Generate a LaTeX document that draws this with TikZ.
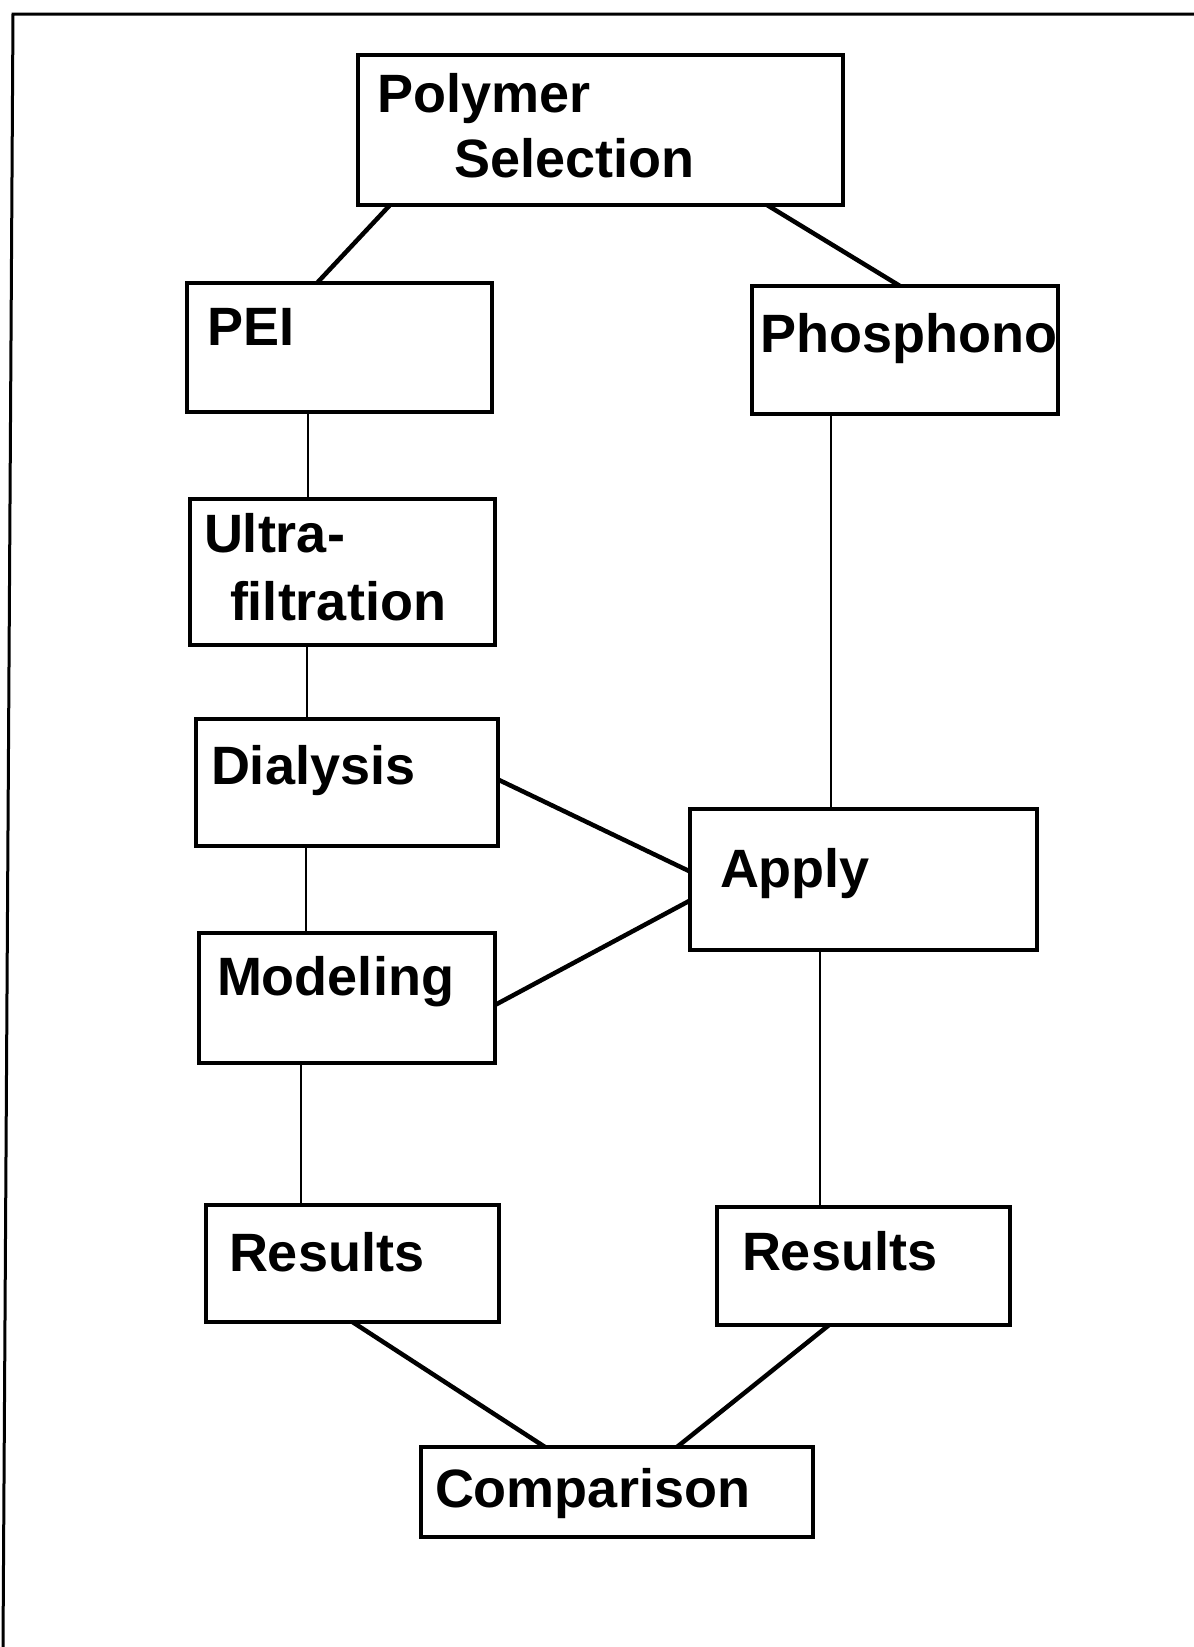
\documentclass[tikz,border=0pt]{standalone}
\usepackage{fontspec}
\setmainfont{Liberation Sans}
\begin{document}
\begin{tikzpicture}[x=1pt,y=-1pt,
  box/.style={draw=black,line width=4pt,fill=none,inner sep=0pt,outer sep=0pt,rectangle},
  txt/.style={anchor=base west,inner sep=0pt,outer sep=0pt,font=\fontsize{54}{65}\selectfont\bfseries},
  thinlink/.style={draw=black,line width=2.2pt},
  thicklink/.style={draw=black,line width=4.5pt},
  framestyle/.style={draw=black,line width=3pt}]
\useasboundingbox (0,0) rectangle (1194,1647);
% frame (only top and left are visible)
\coordinate (fTL) at (13,14);
\coordinate (fTR) at (1194,14);
\coordinate (fBL) at (3,1647);
\draw[framestyle] (fTR) -- (fTL) -- (fBL);

% boxes
\node[box,minimum width=485pt,minimum height=150pt] (poly)  at (600.5,130) {};
\node[box,minimum width=305pt,minimum height=129pt] (pei)   at (339.5,347.5) {};
\node[box,minimum width=306pt,minimum height=128pt] (phos)  at (905,350) {};
\node[box,minimum width=305pt,minimum height=146pt] (ultra) at (342.5,572) {};
\node[box,minimum width=302pt,minimum height=127pt] (dial)  at (347,782.5) {};
\node[box,minimum width=347pt,minimum height=141pt] (apply) at (863.5,879.5) {};
\node[box,minimum width=296pt,minimum height=130pt] (model) at (347,998) {};
\node[box,minimum width=293pt,minimum height=117pt] (resl)  at (352.5,1263.5) {};
\node[box,minimum width=293pt,minimum height=118pt] (resr)  at (863.5,1266) {};
\node[box,minimum width=392pt,minimum height=90pt]  (comp)  at (617,1492) {};

% texts
\node[txt] (polyA)  at (377,112)  {Polymer};
\node[txt] (polyB)  at (454,177)  {Selection};
\node[txt] (peiT)   at (207,345)  {PEI};
\node[txt] (phosT)  at (760,352)  {Phosphono};
\node[txt] (ultraA) at (204,552)  {Ultra-};
\node[txt] (ultraB) at (230,620)  {filtration};
\node[txt] (dialT)  at (211,784)  {Dialysis};
\node[txt] (applyT) at (720,887)  {Apply};
\node[txt] (modelT) at (217,995)  {Modeling};
\node[txt] (reslT)  at (229,1271) {Results};
\node[txt] (resrT)  at (742,1270) {Results};
\node[txt] (compT)  at (435,1507) {Comparison};

% connectors
\draw[thicklink] ([xshift=32pt]poly.south west) -- ([xshift=130pt]pei.north west);
\draw[thicklink] ([xshift=409pt]poly.south west) -- ([xshift=148pt]phos.north west);
\draw[thinlink] ([xshift=121pt]pei.south west) -- ([xshift=118pt]ultra.north west);
\draw[thinlink] ([xshift=117pt]ultra.south west) -- ([xshift=111pt]dial.north west);
\draw[thinlink] ([xshift=110pt]dial.south west) -- ([xshift=107pt]model.north west);
\draw[thinlink] ([xshift=102pt]model.south west) -- ([xshift=95pt]resl.north west);
\draw[thinlink] ([xshift=79pt]phos.south west) -- ([xshift=141pt]apply.north west);
\draw[thinlink] ([xshift=130pt]apply.south west) -- ([xshift=103pt]resr.north west);
\draw[thicklink] ([yshift=3pt]dial.east) -- ([yshift=8pt]apply.west);
\draw[thicklink] ([yshift=-7pt]model.east) -- ([yshift=-21pt]apply.west);
\draw[thicklink] (resl.south) -- ([xshift=124pt]comp.north west);
\draw[thicklink] ([xshift=112pt]resr.south west) -- ([xshift=256pt]comp.north west);
\end{tikzpicture}
\end{document}
